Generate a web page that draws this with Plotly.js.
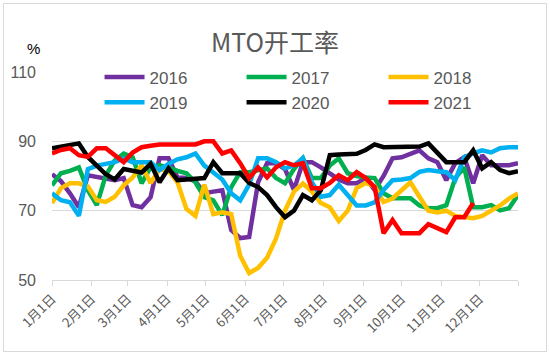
<!DOCTYPE html>
<html>
<head>
<meta charset="utf-8">
<script src="https://cdn.plot.ly/plotly-3.0.1.min.js"></script>
<style>
  html, body { margin: 0; padding: 0; background: #ffffff; }
  #wrap { position: relative; width: 550px; height: 355px; }
  #chart { width: 550px; height: 355px; }
  #frame { position: absolute; left: 3px; top: 3px; width: 542px; height: 347px;
           border: 1px solid #d9d9d9; pointer-events: none; }
</style>
</head>
<body>
<div id="wrap"><div id="chart"></div><div id="frame"></div></div>
<script>
// Weekly observation dates (mapped onto one common year)
const dates = ["2021-01-01","2021-01-08","2021-01-15","2021-01-22","2021-01-29","2021-02-05","2021-02-12","2021-02-19","2021-02-26",
  "2021-03-05","2021-03-12","2021-03-19","2021-03-26","2021-04-02","2021-04-09","2021-04-16","2021-04-23","2021-04-30",
  "2021-05-07","2021-05-14","2021-05-21","2021-05-28","2021-06-04","2021-06-11","2021-06-18","2021-06-25","2021-07-02",
  "2021-07-09","2021-07-16","2021-07-23","2021-07-30","2021-08-06","2021-08-13","2021-08-20","2021-08-27","2021-09-03",
  "2021-09-10","2021-09-17","2021-09-24","2021-10-01","2021-10-08","2021-10-15","2021-10-22","2021-10-29","2021-11-05",
  "2021-11-12","2021-11-19","2021-11-26","2021-12-03","2021-12-10","2021-12-17","2021-12-24","2021-12-31"];

const y2016 = [80.5,78.5,75,71,80.2,79.8,79.4,78.8,79.4,71.6,71,73.9,85.1,85.1,79.6,79.4,78.5,75,75.5,75.9,64.4,62.1,62.4,78.2,83.7,83.7,
  82,76,84,84,82.5,80.8,79,77.9,77.9,79.4,76,80,85.1,85.4,86.5,87.4,85.1,84,78.8,83.7,85.4,77.9,86,83.1,83.1,83.1,83.7];
const y2017 = [77.3,80.8,81.5,82.5,75.9,71.6,80.2,84.5,86.5,85.4,77.9,82.5,83.1,82.5,81.5,80.8,78.2,73.9,73,68.7,76.8,81.1,81.1,81.5,82.2,79.4,
  77.9,82,85.1,79.4,79.4,83,85.1,80.8,80,79.6,79.4,75,73.6,73.6,73.6,71.5,70.7,70.7,71.6,79.4,82.5,71,71,71.6,70.1,70.7,74.5];
const y2018 = [72.2,76.5,77.9,77.9,77,73,72.5,74,77.3,79.6,83.1,78,82,81.5,78.2,70.5,68.5,77.5,69,69.5,69,57,52,53.5,56.4,62,
  70,75.5,77.8,75.5,72.2,71,67,70,76.5,78,77,72.5,73.5,76,78.2,74,70,69.5,70,68.5,68,67.8,68.5,70.1,71.5,73.5,75];
const y2019 = [75,73,72.4,68.5,82,83,83.5,84,85.1,84,84,84,81.7,83.5,84.8,85.4,86.5,83,81,79,75,73,77.5,85.1,85.1,84,
  82.2,83,85.1,78.2,74,74.5,77.5,74.5,71.5,71.5,72.4,76,78.8,79,79.4,81.2,81.7,81.4,81.1,78.8,85.4,86.5,87.4,86.8,88,88.3,88.3];
const y2020 = [88,88.5,88.8,89.4,85.5,83,80.5,79,82,81.5,81,83.5,78.2,82.2,78.8,79,79.2,79.4,84,80.8,80.8,80.8,78,76.8,74.5,71,
  68.1,70,74.5,73,75.9,86,86.2,86.3,86.4,87.5,89.1,88.3,88.3,88.3,88.3,88.5,89.4,86.5,84,84,84,87.4,82.2,84,81.7,80.8,81.4];
const y2021 = [86.5,87.5,88,86,85.5,88,88,86,84,86.8,88.3,88.7,89.1,89.1,89.1,89.1,89.1,90,90,86.5,87.4,83.7,79.4,82.5,79.6,82.5,
  84,83.1,83.7,76.5,76.5,78,80.2,78.8,81.1,79.4,76.8,63.5,67.3,63.5,63.5,63.5,66.1,65,63.8,68.1,68.1,72.2];

const seriesNames = ["2016","2017","2018","2019","2020","2021"];
const seriesValues = [y2016, y2017, y2018, y2019, y2020, y2021];
const seriesColors = ["#7030A0","#00B050","#FFC000","#00B0F0","#000000","#FF0000"];

const tickDates = ["2021-01-01","2021-02-01","2021-03-01","2021-04-01","2021-05-01","2021-06-01","2021-07-01",
  "2021-08-01","2021-09-01","2021-10-01","2021-11-01","2021-12-01","2021-12-31"];
const tickLabels = ["1月1日","2月1日","3月1日","4月1日","5月1日","6月1日","7月1日","8月1日","9月1日","10月1日","11月1日","12月1日",""];

const traces = seriesNames.map((name, i) => ({
  type: "scatter", mode: "lines", name: name,
  x: dates.slice(0, seriesValues[i].length), y: seriesValues[i],
  line: { color: seriesColors[i], width: 4.5, shape: "linear" },
  connectgaps: false, hoverinfo: "skip"
}));

const fontFam = "Liberation Sans, Arial, sans-serif";
const layout = {
  width: 550, height: 355,
  margin: { l: 52, r: 32, t: 71.5, b: 75 },
  paper_bgcolor: "#ffffff", plot_bgcolor: "#ffffff",
  title: { text: "MTO开工率", x: 0.5, xref: "container", y: 1 - 43/355, yref: "container",
           yanchor: "middle", xanchor: "center",
           font: { family: "Noto Sans CJK SC, sans-serif", size: 25, color: "#595959" } },
  showlegend: true,
  legend: { orientation: "h", x: 0.102, xanchor: "left", y: 1.06, yanchor: "top",
            entrywidth: 87, entrywidthmode: "pixels", traceorder: "normal",
            font: { family: fontFam, size: 17, color: "#595959" },
            bgcolor: "rgba(0,0,0,0)", itemwidth: 40 },
  xaxis: { type: "date", range: ["2021-01-01", "2021-12-31"], tickvals: tickDates, ticktext: tickLabels,
           tickangle: -45, ticks: "outside", ticklen: 5, tickcolor: "#d9d9d9", showline: true,
           linecolor: "#d9d9d9", linewidth: 1, showgrid: false, zeroline: false,
           tickfont: { family: "Noto Sans CJK SC, sans-serif", size: 13, color: "#595959" } },
  yaxis: { range: [50, 110], tickvals: [50, 70, 90, 110], showgrid: true, gridcolor: "#d9d9d9",
           gridwidth: 1, zeroline: false, showline: false, ticks: "", ticklabelstandoff: 15,
           tickfont: { family: fontFam, size: 16, color: "#595959" } },
  annotations: [{ text: "%", xref: "paper", yref: "paper", x: (33-52)/466, y: 1 + (71.5-48)/208.5,
                  xanchor: "center", yanchor: "middle", showarrow: false,
                  font: { family: fontFam, size: 15, color: "#000000" } }]
};
Plotly.newPlot("chart", traces, layout, { displayModeBar: false, staticPlot: true });
</script>
</body>
</html>
